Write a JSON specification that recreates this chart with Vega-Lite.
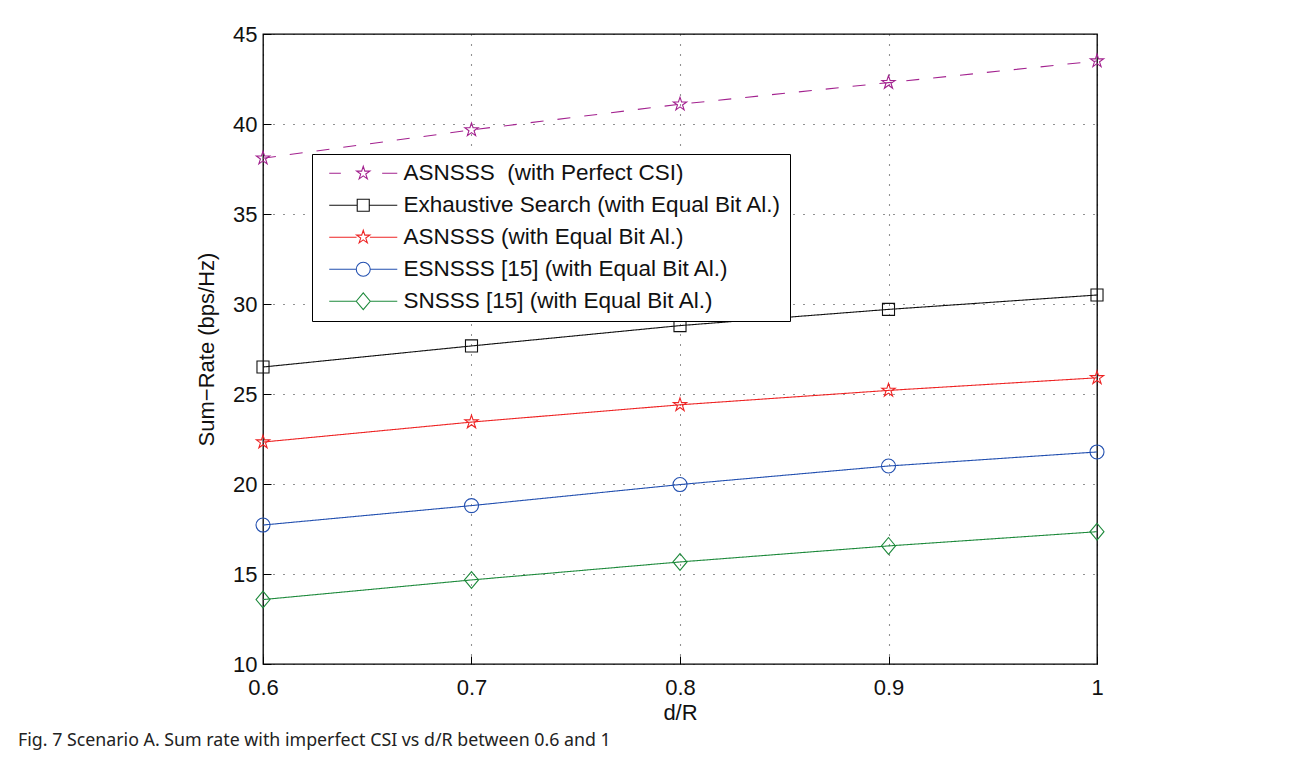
{
  "$schema": "https://vega.github.io/schema/vega-lite/v6.json",
  "width": 834,
  "height": 630,
  "autosize": "none",
  "padding": {"left": 263, "top": 34, "right": 197, "bottom": 111},
  "background": "white",
  "config": {
    "view": {"stroke": "#000000", "strokeWidth": 1.3},
    "font": "Liberation Sans",
    "axis": {
      "domain": false,
      "grid": true,
      "gridColor": "#000000",
      "gridDash": [1, 9],
      "gridWidth": 1.1,
      "gridOpacity": 0.85,
      "ticks": true,
      "tickColor": "#000000",
      "tickSize": -8,
      "tickWidth": 1,
      "labelFlush": false,
      "labelFont": "Liberation Sans",
      "labelFontSize": 22,
      "labelColor": "#111111",
      "titleFont": "Liberation Sans",
      "titleFontSize": 22,
      "titleFontWeight": "normal",
      "titleColor": "#111111"
    },
    "legend": {
      "labelFont": "Liberation Sans",
      "labelFontSize": 22.5,
      "labelColor": "#111111",
      "labelLimit": 0
    }
  },
  "title": {
    "text": "Fig. 7 Scenario A. Sum rate with imperfect CSI vs d/R between 0.6 and 1",
    "orient": "bottom",
    "anchor": "start",
    "frame": "group",
    "dx": -245,
    "offset": 9,
    "font": "Noto Sans",
    "fontSize": 17.8,
    "fontWeight": "normal",
    "color": "#222222"
  },
  "data": {
    "values": [
      {"x": 0.6, "y": 38.1, "series": "ASNSSS  (with Perfect CSI)"},
      {"x": 0.7, "y": 39.67, "series": "ASNSSS  (with Perfect CSI)"},
      {"x": 0.8, "y": 41.1, "series": "ASNSSS  (with Perfect CSI)"},
      {"x": 0.9, "y": 42.3, "series": "ASNSSS  (with Perfect CSI)"},
      {"x": 1.0, "y": 43.5, "series": "ASNSSS  (with Perfect CSI)"},
      {"x": 0.6, "y": 26.5, "series": "Exhaustive Search (with Equal Bit Al.)"},
      {"x": 0.7, "y": 27.67, "series": "Exhaustive Search (with Equal Bit Al.)"},
      {"x": 0.8, "y": 28.8, "series": "Exhaustive Search (with Equal Bit Al.)"},
      {"x": 0.9, "y": 29.7, "series": "Exhaustive Search (with Equal Bit Al.)"},
      {"x": 1.0, "y": 30.5, "series": "Exhaustive Search (with Equal Bit Al.)"},
      {"x": 0.6, "y": 22.33, "series": "ASNSSS (with Equal Bit Al.)"},
      {"x": 0.7, "y": 23.44, "series": "ASNSSS (with Equal Bit Al.)"},
      {"x": 0.8, "y": 24.4, "series": "ASNSSS (with Equal Bit Al.)"},
      {"x": 0.9, "y": 25.2, "series": "ASNSSS (with Equal Bit Al.)"},
      {"x": 1.0, "y": 25.9, "series": "ASNSSS (with Equal Bit Al.)"},
      {"x": 0.6, "y": 17.72, "series": "ESNSSS [15] (with Equal Bit Al.)"},
      {"x": 0.7, "y": 18.8, "series": "ESNSSS [15] (with Equal Bit Al.)"},
      {"x": 0.8, "y": 19.97, "series": "ESNSSS [15] (with Equal Bit Al.)"},
      {"x": 0.9, "y": 21.0, "series": "ESNSSS [15] (with Equal Bit Al.)"},
      {"x": 1.0, "y": 21.78, "series": "ESNSSS [15] (with Equal Bit Al.)"},
      {"x": 0.6, "y": 13.58, "series": "SNSSS [15] (with Equal Bit Al.)"},
      {"x": 0.7, "y": 14.67, "series": "SNSSS [15] (with Equal Bit Al.)"},
      {"x": 0.8, "y": 15.67, "series": "SNSSS [15] (with Equal Bit Al.)"},
      {"x": 0.9, "y": 16.56, "series": "SNSSS [15] (with Equal Bit Al.)"},
      {"x": 1.0, "y": 17.35, "series": "SNSSS [15] (with Equal Bit Al.)"}
    ]
  },
  "layer": [
    {
      "mark": {"type": "line", "strokeWidth": 1.1, "clip": false},
      "encoding": {
        "x": {
          "field": "x", "type": "quantitative",
          "scale": {"domain": [0.6, 1], "nice": false, "zero": false},
          "axis": {"values": [0.6, 0.7, 0.8, 0.9, 1], "format": "~g", "title": "d/R", "labelPadding": 21, "titlePadding": 4}
        },
        "y": {
          "field": "y", "type": "quantitative",
          "scale": {"domain": [10, 45], "nice": false, "zero": false},
          "axis": {"values": [10, 15, 20, 25, 30, 35, 40, 45], "title": "Sum−Rate (bps/Hz)", "labelPadding": 14, "titlePadding": 14}
        },
        "color": {
          "field": "series", "type": "nominal",
          "scale": {
            "domain": ["ASNSSS  (with Perfect CSI)", "Exhaustive Search (with Equal Bit Al.)", "ASNSSS (with Equal Bit Al.)", "ESNSSS [15] (with Equal Bit Al.)", "SNSSS [15] (with Equal Bit Al.)"],
            "range": ["#a3228f", "#111111", "#ee2424", "#2350b0", "#1e8a3c"]
          },
          "legend": null
        },
        "strokeDash": {
          "field": "series", "type": "nominal",
          "scale": {
            "domain": ["ASNSSS  (with Perfect CSI)", "Exhaustive Search (with Equal Bit Al.)", "ASNSSS (with Equal Bit Al.)", "ESNSSS [15] (with Equal Bit Al.)", "SNSSS [15] (with Equal Bit Al.)"],
            "range": [[13, 14], [1, 0], [1, 0], [1, 0], [1, 0]]
          },
          "legend": null
        }
      }
    },
    {
      "mark": {"type": "point", "filled": false, "size": 196, "strokeWidth": 1.1, "opacity": 1, "clip": false},
      "encoding": {
        "x": {"field": "x", "type": "quantitative"},
        "y": {"field": "y", "type": "quantitative"},
        "color": {"field": "series", "type": "nominal", "legend": null},
        "shape": {
          "field": "series", "type": "nominal",
          "scale": {
            "domain": ["ASNSSS  (with Perfect CSI)", "Exhaustive Search (with Equal Bit Al.)", "ASNSSS (with Equal Bit Al.)", "ESNSSS [15] (with Equal Bit Al.)", "SNSSS [15] (with Equal Bit Al.)"],
            "range": [
              "M0,-1L0.2245,-0.309L0.951,-0.309L0.363,0.118L0.588,0.809L0,0.382L-0.588,0.809L-0.363,0.118L-0.951,-0.309L-0.2245,-0.309Z",
              "M-0.86,-0.86L0.86,-0.86L0.86,0.86L-0.86,0.86Z",
              "M0,-1L0.2245,-0.309L0.951,-0.309L0.363,0.118L0.588,0.809L0,0.382L-0.588,0.809L-0.363,0.118L-0.951,-0.309L-0.2245,-0.309Z",
              "M1,0A1,1 0 1,1 -1,0A1,1 0 1,1 1,0Z",
              "M-1,0L0,-1.2L1,0L0,1.2Z"
            ]
          },
          "legend": null
        }
      }
    },
    {
      "mark": {"type": "point", "filled": false, "size": 196, "strokeWidth": 1.1, "opacity": 0},
      "encoding": {
        "x": {"field": "x", "type": "quantitative"},
        "y": {"field": "y", "type": "quantitative"},
        "stroke": {
          "field": "series", "type": "nominal",
          "scale": {
            "domain": ["ASNSSS  (with Perfect CSI)", "Exhaustive Search (with Equal Bit Al.)", "ASNSSS (with Equal Bit Al.)", "ESNSSS [15] (with Equal Bit Al.)", "SNSSS [15] (with Equal Bit Al.)"],
            "range": ["#a3228f", "#111111", "#ee2424", "#2350b0", "#1e8a3c"]
          },
          "legend": {
            "title": null, "orient": "none", "legendX": 49, "legendY": 120,
            "padding": 8, "rowPadding": 9, "symbolOffset": 32, "labelOffset": 29,
            "strokeColor": "#000000", "fillColor": "#ffffff",
            "symbolSize": 196, "symbolStrokeWidth": 1.1, "symbolOpacity": 1,
            "labelExpr": "replace(datum.label, '  ', '\u00a0 ')"
          }
        },
        "shape": {
          "field": "series", "type": "nominal",
          "scale": {
            "domain": ["ASNSSS  (with Perfect CSI)", "Exhaustive Search (with Equal Bit Al.)", "ASNSSS (with Equal Bit Al.)", "ESNSSS [15] (with Equal Bit Al.)", "SNSSS [15] (with Equal Bit Al.)"],
            "range": [
              "M-4.86,0L-3.2,0M2.7,0L4.86,0M0,-1L0.2245,-0.309L0.951,-0.309L0.363,0.118L0.588,0.809L0,0.382L-0.588,0.809L-0.363,0.118L-0.951,-0.309L-0.2245,-0.309Z",
              "M-4.86,0L-0.86,0M0.86,0L4.86,0M-0.86,-0.86L0.86,-0.86L0.86,0.86L-0.86,0.86Z",
              "M-4.86,0L-0.951,0M0.951,0L4.86,0M0,-1L0.2245,-0.309L0.951,-0.309L0.363,0.118L0.588,0.809L0,0.382L-0.588,0.809L-0.363,0.118L-0.951,-0.309L-0.2245,-0.309Z",
              "M-4.86,0L-1,0M1,0L4.86,0M1,0A1,1 0 1,1 -1,0A1,1 0 1,1 1,0Z",
              "M-4.86,0L-1,0M1,0L4.86,0M-1,0L0,-1.2L1,0L0,1.2Z"
            ]
          },
          "legend": {
            "title": null, "orient": "none", "legendX": 49, "legendY": 120,
            "padding": 8, "rowPadding": 9, "symbolOffset": 32, "labelOffset": 29,
            "strokeColor": "#000000", "fillColor": "#ffffff",
            "symbolSize": 196, "symbolStrokeWidth": 1.1, "symbolOpacity": 1,
            "labelExpr": "replace(datum.label, '  ', '\u00a0 ')"
          }
        }
      }
    }
  ],
  "resolve": {
    "scale": {"shape": "independent", "stroke": "independent"}
  }
}
